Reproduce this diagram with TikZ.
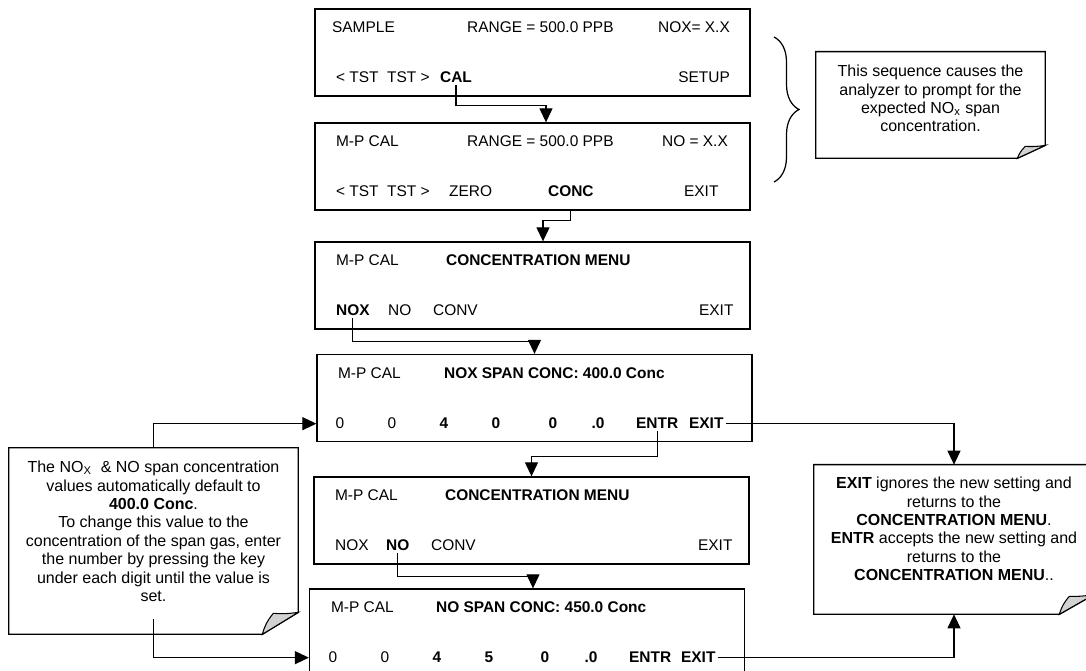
\documentclass[tikz,border=0pt]{standalone}
\usepackage{fontspec}
\setmainfont{Liberation Sans}
\usetikzlibrary{arrows.meta,positioning,decorations.pathreplacing}
\definecolor{foldgray}{HTML}{D2D2D2}

% note outline with a turned-up corner: node, cut x, curl x, curl y, cut y
\newcommand{\dogear}[5]{%
  \draw[line width=0.75pt] (#1.north west) -- (#1.north east) -- ([yshift=#5]#1.south east)
    -- ([xshift=-#2]#1.south east) -- (#1.south west) -- cycle;
  \filldraw[fill=foldgray, line width=0.6pt] ([xshift=-#2]#1.south east)
    to[bend left=12] ([xshift=-#3,yshift=#4]#1.south east)
    to[bend right=6] ([yshift=#5]#1.south east) -- cycle;
}

\begin{document}
\begin{tikzpicture}[
  x=0.02cm, y=-0.02cm,
  font=\fontsize{8.8}{10.5}\selectfont,
  screen/.style={draw, line width=0.75pt, minimum width=8.7cm, minimum height=1.74cm, inner sep=0pt},
  key/.style={anchor=base west, inner sep=1pt},
  bkey/.style={key, font=\fontsize{8.8}{10.5}\selectfont\bfseries},
  digit/.style={anchor=base, inner sep=1pt},
  bdigit/.style={digit, font=\fontsize{8.8}{10.5}\selectfont\bfseries},
  notebox/.style={inner sep=0pt},
  notetext/.style={align=center, inner sep=0pt, font=\fontsize{9.1}{10.5}\selectfont},
  arr/.style={-{Triangle[length=0.28cm,width=0.26cm]}, line width=0.65pt}
]
\clip (0,0) rectangle (1086,671);
\fill[white] (0,0) rectangle (1086,671);

% screens
\node[screen] (sample) at (532.5,52.5) {};
\node[key] (sampleA) at (330,32.5) {SAMPLE};
\node[key] (sampleB) at (465,32.5) {RANGE = 500.0 PPB};
\node[key] (sampleC) at (656,32.5) {NOX= X.X};
\node[key] (sampleD) at (334,83) {<\ TST\ \ TST >};
\node[bkey] (calkey) at (438,83) {CAL};
\node[key, anchor=base east] (setupkey) at (732,83) {SETUP};

\node[screen] (mpcal) at (532.5,166.5) {};
\node[key] (mpcalA) at (334,146.5) {M-P CAL};
\node[key] (mpcalB) at (465,146.5) {RANGE = 500.0 PPB};
\node[key] (mpcalC) at (660,146.5) {NO = X.X};
\node[key] (mpcalD) at (334,197) {<\ TST\ \ TST >};
\node[key] (zerokey) at (447,197) {ZERO};
\node[bkey] (conckey) at (546,197) {CONC};
\node[key] (exitkeyA) at (682,197) {EXIT};

\node[screen] (cmenu) at (532.5,285.5) {};
\node[key] (cmenuA) at (334,265.5) {M-P CAL};
\node[bkey] (cmenuB) at (444,265.5) {CONCENTRATION MENU};
\node[bkey] (noxkey) at (334,316) {NOX};
\node[key] (nokeyA) at (386,316) {NO};
\node[key] (convkeyA) at (431,316) {CONV};
\node[key] (exitkeyB) at (697,316) {EXIT};

\node[screen] (noxspan) at (534.5,398) {};
\node[key] (noxspanA) at (336,378.5) {M-P CAL};
\node[bkey] (noxspanB) at (442,378.5) {NOX SPAN CONC: 400.0 Conc};
\node[digit] (d1) at (340,429) {0};
\node[digit] (d2) at (392,429) {0};
\node[bdigit] (d3) at (444,429) {4};
\node[bdigit] (d4) at (496,429) {0};
\node[bdigit] (d5) at (553,429) {0};
\node[bdigit] (d6) at (598,429) {.0};
\node[bkey] (entrkey) at (634,429) {ENTR};
\node[bkey] (exitkey) at (687,429) {EXIT};

\node[screen] (cmenu2) at (531.5,520.5) {};
\node[key] (cmenu2A) at (333,500.5) {M-P CAL};
\node[bkey] (cmenu2B) at (443,500.5) {CONCENTRATION MENU};
\node[key] (noxkeyB) at (333,551) {NOX};
\node[bkey] (nokey) at (384,551) {NO};
\node[key] (convkeyB) at (429,551) {CONV};
\node[key] (exitkeyC) at (696,551) {EXIT};

\node[screen] (nospan) at (527,632.5) {};
\node[key] (nospanA) at (329,612.5) {M-P CAL};
\node[bkey] (nospanB) at (434,612.5) {NO SPAN CONC: 450.0 Conc};
\node[digit] (e1) at (333,663) {0};
\node[digit] (e2) at (385,663) {0};
\node[bdigit] (e3) at (437,663) {4};
\node[bdigit] (e4) at (489,663) {5};
\node[bdigit] (e5) at (545,663) {0};
\node[bdigit] (e6) at (591,663) {.0};
\node[bkey] (entrkeyB) at (627,663) {ENTR};
\node[bkey] (exitkey2) at (679,663) {EXIT};

% notes
\node[notebox, minimum width=4.58cm, minimum height=2.12cm] (topnote) at (930.5,105) {};
\node[notetext, below=0.26cm of topnote.north] (topnoteT) {This sequence causes the\\analyzer to prompt for the\\expected NO\textsubscript{x} span\\concentration.};
\dogear{topnote}{0.56cm}{0.4cm}{0.24cm}{0.26cm}

\node[notebox, minimum width=5.78cm, minimum height=3.72cm] (lnote) at (153.5,541) {};
\node[notetext, below=0.26cm of lnote.north] (lnoteT) {The NO\textsubscript{X} \ \& NO span concentration\\values automatically default to\\\textbf{400.0 Conc}.\\To change this value to the\\concentration of the span gas, enter\\the number by pressing the key\\under each digit until the value is\\set.};
\dogear{lnote}{0.72cm}{0.5cm}{0.42cm}{0.44cm}

\node[notebox, minimum width=5.6cm, minimum height=2.98cm] (rnote) at (954,539.5) {};
\node[notetext, below=0.24cm of rnote.north] (rnoteT) {\textbf{EXIT} ignores the new setting and\\returns to the\\\textbf{CONCENTRATION MENU}.\\\textbf{ENTR} accepts the new setting and\\returns to the\\\textbf{CONCENTRATION MENU}..};
\dogear{rnote}{0.7cm}{0.5cm}{0.36cm}{0.4cm}

% brace
\draw[line width=0.7pt, decorate, decoration={brace, amplitude=0.5cm}] (774,37) -- (774,182);

% connectors
\draw[arr] (calkey.south) |- ([xshift=0.27cm,yshift=0.34cm]mpcal.north) -- ([xshift=0.27cm]mpcal.north);
\draw[arr] (conckey |- mpcal.south) |- ([xshift=0.21cm,yshift=0.42cm]cmenu.north) -- ([xshift=0.21cm]cmenu.north);
\draw[arr] (noxkey.south) |- ([yshift=0.24cm]noxspan.north) -- (noxspan.north);
\draw[arr] (entrkey.south) |- ([yshift=0.4cm]cmenu2.north) -- (cmenu2.north);
\draw[arr] (nokey.south) |- ([xshift=0.12cm,yshift=0.24cm]nospan.north) -- ([xshift=0.12cm]nospan.north);
\draw[arr] (exitkey.east) -| (rnote.north);
\draw[arr] (exitkey2.east) -| (rnote.south);
\draw[arr] (lnote.north) |- (d1 -| noxspan.west);
\draw[arr] ([yshift=0.3cm]lnote.south) |- (e1 -| nospan.west);

\end{tikzpicture}
\end{document}
